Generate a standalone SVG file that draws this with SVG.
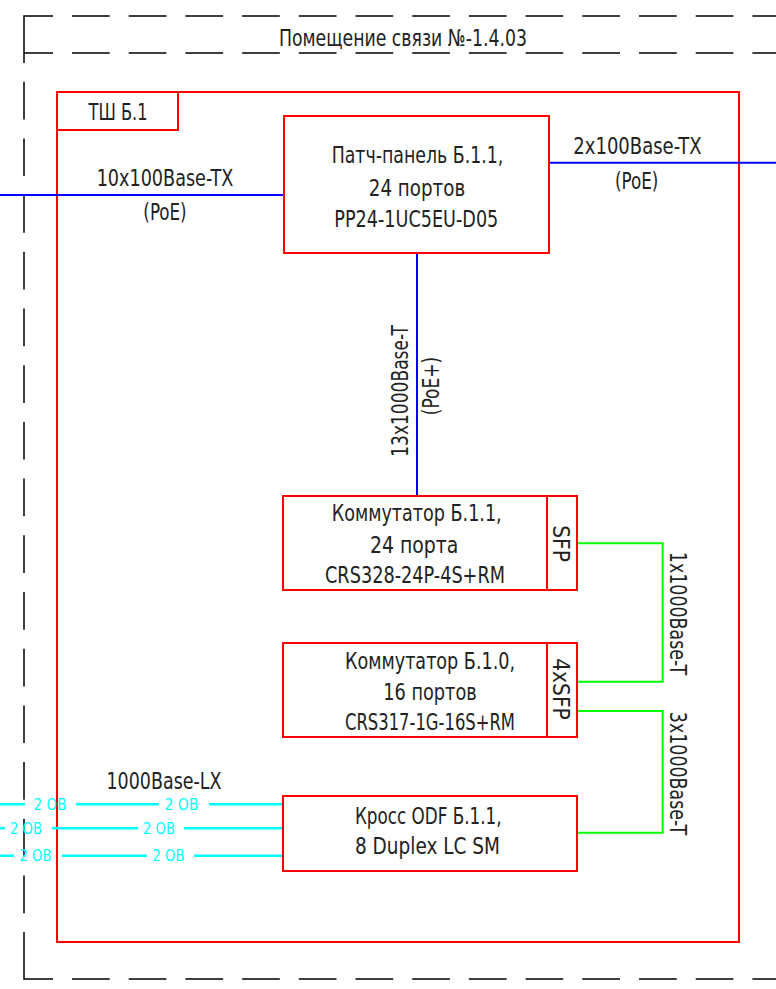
<svg xmlns="http://www.w3.org/2000/svg" width="776" height="989" viewBox="0 0 776 989">
<style>
.frame{fill:none;stroke:#000;stroke-width:1.5}
.dash{fill:none;stroke:#000;stroke-width:1.5;stroke-dasharray:37.7 19}
.box{fill:none;stroke:#ff0000;stroke-width:2}
.blue{fill:none;stroke:#0000ff;stroke-width:2}
.green{fill:none;stroke:#00ff00;stroke-width:2}
.cyan{fill:none;stroke:#00ffff;stroke-width:2.5}
text{font-family:"Liberation Sans Narrow","DejaVu Sans Condensed","Liberation Sans",sans-serif;font-size:23.5px;fill:#222}
.c{text-anchor:middle}
.cy{font-size:16.5px;fill:#00ffff;text-anchor:middle}
</style>
<rect width="776" height="989" fill="#fff"/>
<g id="room">
<path class="frame" d="M24,63 V16 H53 M24,53 H53 M24,932 V979 H53"/>
<path class="dash" d="M72,16 H776 M72,53 H776 M72,979 H776 M24,81.7 V932"/>
<text class="c" x="403" y="45.5" textLength="248" lengthAdjust="spacingAndGlyphs">Помещение связи №-1.4.03</text>
</g>
<g id="cabinet">
<rect class="box" x="57" y="92" width="682" height="850"/>
<rect class="box" x="57" y="92" width="121" height="38"/>
<text class="c" x="118" y="119.5" textLength="59" lengthAdjust="spacingAndGlyphs">ТШ Б.1</text>
</g>
<g id="connectors">
<path class="blue" d="M0,195 H284 M549,162.7 H776 M417,253 V496"/>
<path class="green" d="M577,543.3 H662.7 V681.7 H577 M577,711 H662.7 V832.7 H577"/>
<path class="cyan" d="M0,804.3 H25 M76,804.3 H159 M209,804.3 H283 M0,828.3 H5 M52,828.3 H138 M184,828.3 H283 M0,855.7 H14 M62,855.7 H147 M194,855.7 H283"/>
<text class="c" x="165" y="185.5" textLength="136.7" lengthAdjust="spacingAndGlyphs">10x100Base-TX</text>
<text class="c" x="165" y="219.5" textLength="43.3" lengthAdjust="spacingAndGlyphs">(PoE)</text>
<text class="c" x="637.5" y="153.5" textLength="128.3" lengthAdjust="spacingAndGlyphs">2x100Base-TX</text>
<text class="c" x="636.7" y="188.5" textLength="43.3" lengthAdjust="spacingAndGlyphs">(PoE)</text>
<text class="c" transform="translate(408,391) rotate(-90)" textLength="131.7" lengthAdjust="spacingAndGlyphs">13x1000Base-T</text>
<text class="c" transform="translate(439,386) rotate(-90)" textLength="58.3" lengthAdjust="spacingAndGlyphs">(PoE+)</text>
<text class="c" transform="translate(670,613.5) rotate(90)" textLength="123.3" lengthAdjust="spacingAndGlyphs">1x1000Base-T</text>
<text class="c" transform="translate(670,773.5) rotate(90)" textLength="123.3" lengthAdjust="spacingAndGlyphs">3x1000Base-T</text>
<text class="c" x="164" y="788.5" textLength="115" lengthAdjust="spacingAndGlyphs">1000Base-LX</text>
<text class="cy" x="50" y="810" textLength="33" lengthAdjust="spacingAndGlyphs">2 ОВ</text>
<text class="cy" x="181.5" y="810" textLength="34" lengthAdjust="spacingAndGlyphs">2 ОВ</text>
<text class="cy" x="26" y="834" textLength="32" lengthAdjust="spacingAndGlyphs">2 ОВ</text>
<text class="cy" x="159" y="834" textLength="32" lengthAdjust="spacingAndGlyphs">2 ОВ</text>
<text class="cy" x="35.5" y="861.4" textLength="32" lengthAdjust="spacingAndGlyphs">2 ОВ</text>
<text class="cy" x="168.5" y="861.4" textLength="32" lengthAdjust="spacingAndGlyphs">2 ОВ</text>
</g>
<g id="patch-panel">
<rect class="box" x="284" y="116" width="265" height="137"/>
<text class="c" x="417.5" y="162.5" textLength="171.7" lengthAdjust="spacingAndGlyphs">Патч-панель Б.1.1,</text>
<text class="c" x="417" y="195.5" textLength="96.3" lengthAdjust="spacingAndGlyphs">24 портов</text>
<text class="c" x="416.3" y="226.5" textLength="164" lengthAdjust="spacingAndGlyphs">PP24-1UC5EU-D05</text>
</g>
<g id="switch-b111">
<rect class="box" x="283" y="496" width="264" height="94"/>
<rect class="box" x="547" y="496" width="30" height="94"/>
<text class="c" x="416.7" y="521" textLength="170" lengthAdjust="spacingAndGlyphs">Коммутатор Б.1.1,</text>
<text class="c" x="414.2" y="553" textLength="88.3" lengthAdjust="spacingAndGlyphs">24 порта</text>
<text class="c" x="415" y="583" textLength="180" lengthAdjust="spacingAndGlyphs">CRS328-24P-4S+RM</text>
<text class="c" transform="translate(553,543.5) rotate(90)" textLength="36.7" lengthAdjust="spacingAndGlyphs">SFP</text>
</g>
<g id="switch-b110">
<rect class="box" x="283" y="643" width="264" height="94"/>
<rect class="box" x="547" y="643" width="30" height="94"/>
<text class="c" x="430" y="668.5" textLength="170" lengthAdjust="spacingAndGlyphs">Коммутатор Б.1.0,</text>
<text class="c" x="430" y="700.3" textLength="93.3" lengthAdjust="spacingAndGlyphs">16 портов</text>
<text class="c" x="430" y="730.3" textLength="170" lengthAdjust="spacingAndGlyphs">CRS317-1G-16S+RM</text>
<text class="c" transform="translate(553,689) rotate(90)" textLength="61.7" lengthAdjust="spacingAndGlyphs">4xSFP</text>
</g>
<g id="odf">
<rect class="box" x="283" y="796" width="294" height="75"/>
<text class="c" x="428.3" y="823.5" textLength="146.7" lengthAdjust="spacingAndGlyphs">Кросс ODF Б.1.1,</text>
<text class="c" x="427.5" y="854" textLength="145" lengthAdjust="spacingAndGlyphs">8 Duplex LC SM</text>
</g>
</svg>
